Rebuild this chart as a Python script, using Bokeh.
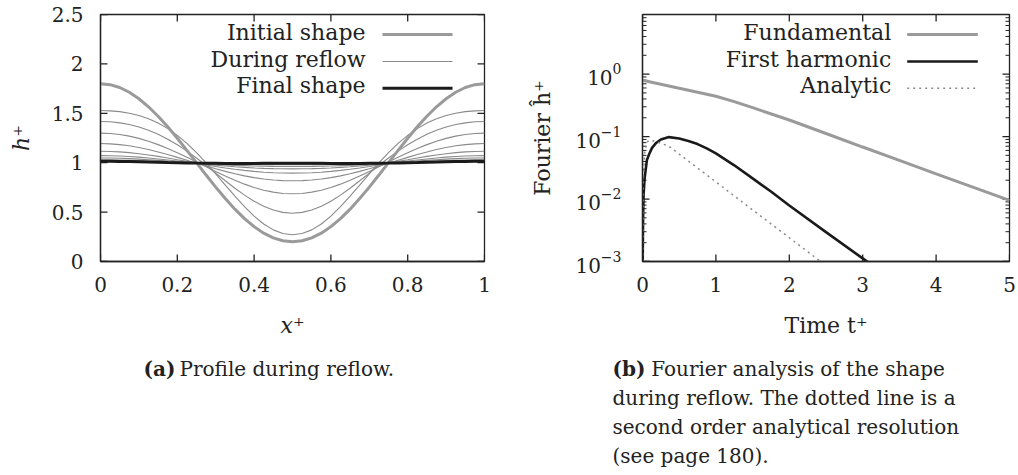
from bokeh.plotting import figure
from bokeh.models import Range1d, FixedTicker, LogTicker, Label, Arrow, Whisker, ColumnDataSource
from bokeh.layouts import row, column
from bokeh.embed import file_html
from bokeh.resources import INLINE

FONT = "DejaVu Serif"
INK = "#222222"
GREY_THICK = "#9a9a9a"
GREY_THIN = "#8a8a8a"
BLACK = "#1a1a1a"

# ---------------- panel (a): profile during reflow ----------------
x_pos = [0.0, 0.025, 0.05, 0.075, 0.1, 0.125, 0.15, 0.175, 0.2, 0.225, 0.25,
         0.275, 0.3, 0.325, 0.35, 0.375, 0.4, 0.425, 0.45, 0.475, 0.5,
         0.525, 0.55, 0.575, 0.6, 0.625, 0.65, 0.675, 0.7, 0.725, 0.75,
         0.775, 0.8, 0.825, 0.85, 0.875, 0.9, 0.925, 0.95, 0.975, 1.0]

initial_h = [1.800, 1.790, 1.761, 1.713, 1.647, 1.566, 1.470, 1.363, 1.247, 1.125, 1.000,
             0.875, 0.753, 0.637, 0.530, 0.434, 0.353, 0.287, 0.239, 0.210, 0.200,
             0.210, 0.239, 0.287, 0.353, 0.434, 0.530, 0.637, 0.753, 0.875, 1.000,
             1.125, 1.247, 1.363, 1.470, 1.566, 1.647, 1.713, 1.761, 1.790, 1.800]

reflow_1 = [1.528, 1.525, 1.517, 1.501, 1.478, 1.445, 1.401, 1.345, 1.276, 1.195, 1.101,
            0.998, 0.887, 0.774, 0.662, 0.555, 0.460, 0.380, 0.320, 0.283, 0.270,
            0.283, 0.320, 0.380, 0.460, 0.555, 0.662, 0.774, 0.887, 0.998, 1.101,
            1.195, 1.276, 1.345, 1.401, 1.445, 1.478, 1.501, 1.517, 1.525, 1.528]
reflow_2 = [1.417, 1.414, 1.403, 1.386, 1.361, 1.328, 1.287, 1.238, 1.181, 1.117, 1.047,
            0.972, 0.895, 0.817, 0.742, 0.672, 0.610, 0.559, 0.521, 0.497, 0.489,
            0.497, 0.521, 0.559, 0.610, 0.672, 0.742, 0.817, 0.895, 0.972, 1.047,
            1.117, 1.181, 1.238, 1.287, 1.328, 1.361, 1.386, 1.403, 1.414, 1.417]
reflow_3 = [1.299, 1.296, 1.286, 1.269, 1.246, 1.217, 1.183, 1.144, 1.101, 1.056, 1.008,
            0.960, 0.912, 0.865, 0.822, 0.783, 0.749, 0.722, 0.702, 0.689, 0.685,
            0.689, 0.702, 0.722, 0.749, 0.783, 0.822, 0.865, 0.912, 0.960, 1.008,
            1.056, 1.101, 1.144, 1.183, 1.217, 1.246, 1.269, 1.286, 1.296, 1.299]
reflow_4 = [1.194, 1.191, 1.183, 1.171, 1.154, 1.133, 1.109, 1.083, 1.054, 1.025, 0.995,
            0.966, 0.938, 0.912, 0.888, 0.867, 0.849, 0.835, 0.825, 0.819, 0.817,
            0.819, 0.825, 0.835, 0.849, 0.867, 0.888, 0.912, 0.938, 0.966, 0.995,
            1.025, 1.054, 1.083, 1.109, 1.133, 1.154, 1.171, 1.183, 1.191, 1.194]
reflow_5 = [1.116, 1.114, 1.110, 1.102, 1.091, 1.078, 1.064, 1.048, 1.030, 1.013, 0.995,
            0.978, 0.962, 0.947, 0.933, 0.922, 0.912, 0.904, 0.898, 0.895, 0.894,
            0.895, 0.898, 0.904, 0.912, 0.922, 0.933, 0.947, 0.962, 0.978, 0.995,
            1.013, 1.030, 1.048, 1.064, 1.078, 1.091, 1.102, 1.110, 1.114, 1.116]
reflow_6 = [1.072, 1.071, 1.068, 1.063, 1.056, 1.047, 1.038, 1.028, 1.017, 1.006, 0.995,
            0.985, 0.975, 0.967, 0.959, 0.953, 0.947, 0.943, 0.940, 0.939, 0.938,
            0.939, 0.940, 0.943, 0.947, 0.953, 0.959, 0.967, 0.975, 0.985, 0.995,
            1.006, 1.017, 1.028, 1.038, 1.047, 1.056, 1.063, 1.068, 1.071, 1.072]
reflow_7 = [1.048, 1.047, 1.045, 1.041, 1.036, 1.030, 1.024, 1.017, 1.009, 1.002, 0.995,
            0.989, 0.983, 0.978, 0.973, 0.970, 0.967, 0.965, 0.963, 0.962, 0.962,
            0.962, 0.963, 0.965, 0.967, 0.970, 0.973, 0.978, 0.983, 0.989, 0.995,
            1.002, 1.009, 1.017, 1.024, 1.030, 1.036, 1.041, 1.045, 1.047, 1.048]
reflow_8 = [1.029, 1.029, 1.027, 1.024, 1.021, 1.017, 1.012, 1.008, 1.003, 0.999, 0.995,
            0.991, 0.989, 0.986, 0.984, 0.983, 0.982, 0.982, 0.981, 0.981, 0.981,
            0.981, 0.981, 0.982, 0.982, 0.983, 0.984, 0.986, 0.989, 0.991, 0.995,
            0.999, 1.003, 1.008, 1.012, 1.017, 1.021, 1.024, 1.027, 1.029, 1.029]

final_h = [1.014, 1.014, 1.013, 1.011, 1.009, 1.007, 1.005, 1.002, 1.000, 0.998, 0.996,
           0.995, 0.994, 0.993, 0.993, 0.993, 0.993, 0.994, 0.994, 0.994, 0.994,
           0.994, 0.994, 0.994, 0.993, 0.993, 0.993, 0.993, 0.994, 0.995, 0.996,
           0.998, 1.000, 1.002, 1.005, 1.007, 1.009, 1.011, 1.013, 1.014, 1.014]

a_x_ticks = [0, 0.2, 0.4, 0.6, 0.8, 1]
a_x_tick_labels = ["0", "0.2", "0.4", "0.6", "0.8", "1"]
a_y_ticks = [0, 0.5, 1, 1.5, 2, 2.5]
a_y_tick_labels = ["0", "0.5", "1", "1.5", "2", "2.5"]

a_legend = ["Initial shape", "During reflow", "Final shape"]
a_caption_tag = "(a)"
a_caption = "Profile during reflow."

# ---------------- panel (b): Fourier analysis ----------------
time_fund = [0.0, 0.25, 0.5, 0.75, 1.0, 1.25, 1.5, 2.0, 2.5, 3.0, 3.5, 4.0, 4.5, 5.0]
fundamental = [0.80, 0.69, 0.593, 0.512, 0.442, 0.363, 0.290, 0.184, 0.112, 0.068,
               0.0415, 0.0253, 0.0155, 0.0095]

time_harm = [0.002, 0.008, 0.015, 0.03, 0.06, 0.09, 0.13, 0.18, 0.25, 0.36, 0.5,
             0.625, 0.75, 0.875, 1.0, 1.25, 1.5, 1.75, 2.0, 2.5, 3.0, 3.2]
first_harmonic = [0.0008, 0.005, 0.012, 0.022, 0.042, 0.052, 0.066, 0.078, 0.090, 0.098,
                  0.0933, 0.0851, 0.0759, 0.0646, 0.0537, 0.0347, 0.0214, 0.0132,
                  0.0079, 0.00295, 0.00112, 0.00076]

time_anal = [0.002, 0.01, 0.03, 0.06, 0.1, 0.2, 0.36, 0.5, 1.0, 1.5, 2.0, 2.5]
analytic = [0.0008, 0.02, 0.055, 0.082, 0.088, 0.082, 0.070, 0.0525, 0.0188, 0.0067,
            0.0024, 0.00086]

b_x_ticks = [0, 1, 2, 3, 4, 5]
b_x_tick_labels = ["0", "1", "2", "3", "4", "5"]
b_y_major_ticks = [0.001, 0.01, 0.1, 1]
b_y_minor_ticks = [0.002, 0.003, 0.004, 0.005, 0.006, 0.007, 0.008, 0.009,
                   0.02, 0.03, 0.04, 0.05, 0.06, 0.07, 0.08, 0.09,
                   0.2, 0.3, 0.4, 0.5, 0.6, 0.7, 0.8, 0.9,
                   2, 3, 4, 5, 6, 7, 8, 9]

b_legend = ["Fundamental", "First harmonic", "Analytic"]
b_caption_tag = "(b)"
b_caption_lines = ["Fourier analysis of the shape",
                   "during reflow. The dotted line is a",
                   "second order analytical resolution",
                   "(see page 180)."]

TOP_H = 340
CAP_H = 134
FRAME_TOP = 14
FRAME_H = 247
TXT_SHIFT = 9   # Label baseline correction


def style_axis(ax, standoff=17):
    ax.axis_line_color = INK
    ax.axis_line_width = 1.3
    ax.major_tick_in = 0
    ax.major_tick_out = 0
    ax.major_tick_line_color = None
    ax.minor_tick_line_color = None
    ax.major_label_text_font = FONT
    ax.major_label_text_color = INK
    ax.major_label_standoff = standoff
    ax.major_label_text_font_size = "20px"
    ax.axis_label_text_font = FONT
    ax.axis_label_text_font_size = "22px"
    ax.axis_label_text_color = INK


def base_figure(width, x_range, y_range, min_left, min_right, **kw):
    p = figure(width=width, height=TOP_H, x_range=x_range, y_range=y_range,
               output_backend="svg", toolbar_location=None,
               min_border_left=min_left, min_border_right=min_right,
               min_border_top=FRAME_TOP, min_border_bottom=TOP_H - FRAME_TOP - FRAME_H, **kw)
    p.xgrid.visible = False
    p.ygrid.visible = False
    p.outline_line_color = INK
    p.outline_line_width = 1.3
    p.background_fill_color = "white"
    p.border_fill_color = "white"
    return p


def add_ticks(p, positions, dimension, frame_extent, length, width=1.3):
    """Inward tick marks on both opposite frame edges (gnuplot style mirrored ticks)."""
    key = "x" if dimension == "height" else "y"
    src = ColumnDataSource({key: positions})
    for lo, hi in ((0, length), (frame_extent - length, frame_extent)):
        p.add_layout(Whisker(source=src, base=key, dimension=dimension,
                             lower=lo, upper=hi, lower_units="screen", upper_units="screen",
                             lower_head=None, upper_head=None,
                             line_color=INK, line_width=width))


def caption_figure(width):
    c = figure(width=width, height=CAP_H, x_range=Range1d(0, 1), y_range=Range1d(0, 1),
               output_backend="svg", toolbar_location=None,
               x_axis_location=None, y_axis_location=None, min_border=0)
    c.xgrid.visible = False
    c.ygrid.visible = False
    c.outline_line_color = None
    c.background_fill_color = "white"
    c.border_fill_color = "white"
    return c


def add_text(p, x, y, text, size="20px", bold=False, align="left"):
    p.add_layout(Label(x=x, y=y + TXT_SHIFT, x_units="screen", y_units="screen", text=text,
                       text_align=align, text_baseline="alphabetic",
                       text_font=FONT, text_font_size=size,
                       text_font_style="bold" if bold else "normal", text_color=INK))


def add_legend(p, texts, text_right, line_x0, line_x1, styles):
    rows_line_y = [227, 200, 173.3]
    rows_base_y = [220, 193.3, 166.7]
    for t, ly, by, st in zip(texts, rows_line_y, rows_base_y, styles):
        add_text(p, text_right, by, t, size="22px", align="right")
        p.add_layout(Arrow(end=None, x_start=line_x0, y_start=ly, x_end=line_x1, y_end=ly,
                           start_units="screen", end_units="screen", **st))


# ---------- figure (a) ----------
A_W, A_L, A_R = 500, 100, 16
p1 = base_figure(A_W, Range1d(0, 1), Range1d(0, 2.5), A_L, A_R)
for curve in [reflow_1, reflow_2, reflow_3, reflow_4, reflow_5, reflow_6, reflow_7, reflow_8]:
    p1.line(x_pos, curve, line_color=GREY_THIN, line_width=1.1)
p1.line(x_pos, initial_h, line_color=GREY_THICK, line_width=3)
p1.line(x_pos, final_h, line_color=BLACK, line_width=3)

p1.xaxis.ticker = FixedTicker(ticks=a_x_ticks)
p1.xaxis.major_label_overrides = {t: l for t, l in zip(a_x_ticks, a_x_tick_labels)}
p1.yaxis.ticker = FixedTicker(ticks=a_y_ticks)
p1.yaxis.major_label_overrides = {t: l for t, l in zip(a_y_ticks, a_y_tick_labels)}
p1.xaxis.axis_label = "x\u207a"
p1.yaxis.axis_label = "h\u207a"
for ax in p1.xaxis + p1.yaxis:
    style_axis(ax)
    ax.axis_label_text_font_style = "italic"
p1.xaxis.major_label_standoff = 15
p1.xaxis.axis_label_standoff = 18
p1.yaxis.axis_label_standoff = 15

add_ticks(p1, a_x_ticks, "height", FRAME_H, 7)
add_ticks(p1, a_y_ticks, "width", A_W - A_L - A_R, 7)

add_legend(p1, a_legend, 265, 282, 352, [
    dict(line_color=GREY_THICK, line_width=3),
    dict(line_color=GREY_THIN, line_width=1.1),
    dict(line_color=BLACK, line_width=3),
])

# ---------- figure (b) ----------
B_W, B_L, B_R = 518, 142, 9
p2 = base_figure(B_W, Range1d(0, 5), Range1d(1e-3, 9), B_L, B_R, y_axis_type="log")
p2.line(time_fund, fundamental, line_color=GREY_THICK, line_width=3)
p2.line(time_harm, first_harmonic, line_color=BLACK, line_width=2.6)
p2.line(time_anal, analytic, line_color=GREY_THIN, line_width=1.5, line_dash="2 4")

p2.xaxis.ticker = FixedTicker(ticks=b_x_ticks)
p2.xaxis.major_label_overrides = {t: l for t, l in zip(b_x_ticks, b_x_tick_labels)}
p2.yaxis.ticker = LogTicker()
p2.xaxis.axis_label = "Time t\u207a"
p2.yaxis.axis_label = "Fourier \u0125\u207a"
for ax in p2.xaxis + p2.yaxis:
    style_axis(ax)
    ax.axis_label_text_font_style = "normal"
p2.xaxis.major_label_standoff = 15
p2.xaxis.axis_label_standoff = 18
p2.yaxis.axis_label_standoff = 17

add_ticks(p2, b_x_ticks, "height", FRAME_H, 7)
add_ticks(p2, b_y_major_ticks, "width", B_W - B_L - B_R, 7)
add_ticks(p2, b_y_minor_ticks, "width", B_W - B_L - B_R, 4, width=1.0)

add_legend(p2, b_legend, 248.7, 264.7, 335.3, [
    dict(line_color=GREY_THICK, line_width=3),
    dict(line_color=BLACK, line_width=2.6),
    dict(line_color=GREY_THIN, line_width=1.5, line_dash="2 4"),
])

# ---------- captions ----------
c1 = caption_figure(A_W)
add_text(c1, 143, 97, a_caption_tag, bold=True)
add_text(c1, 179, 97, a_caption)

c2 = caption_figure(B_W)
add_text(c2, 112, 97, b_caption_tag, bold=True)
cap_x = [150.7, 112, 112, 112]
cap_y = [97, 68, 39, 10]
for line_text, cx, cy in zip(b_caption_lines, cap_x, cap_y):
    add_text(c2, cx, cy, line_text)

layout = column(row(p1, p2), row(c1, c2))
open("out.html", "w").write(file_html(layout, INLINE))
